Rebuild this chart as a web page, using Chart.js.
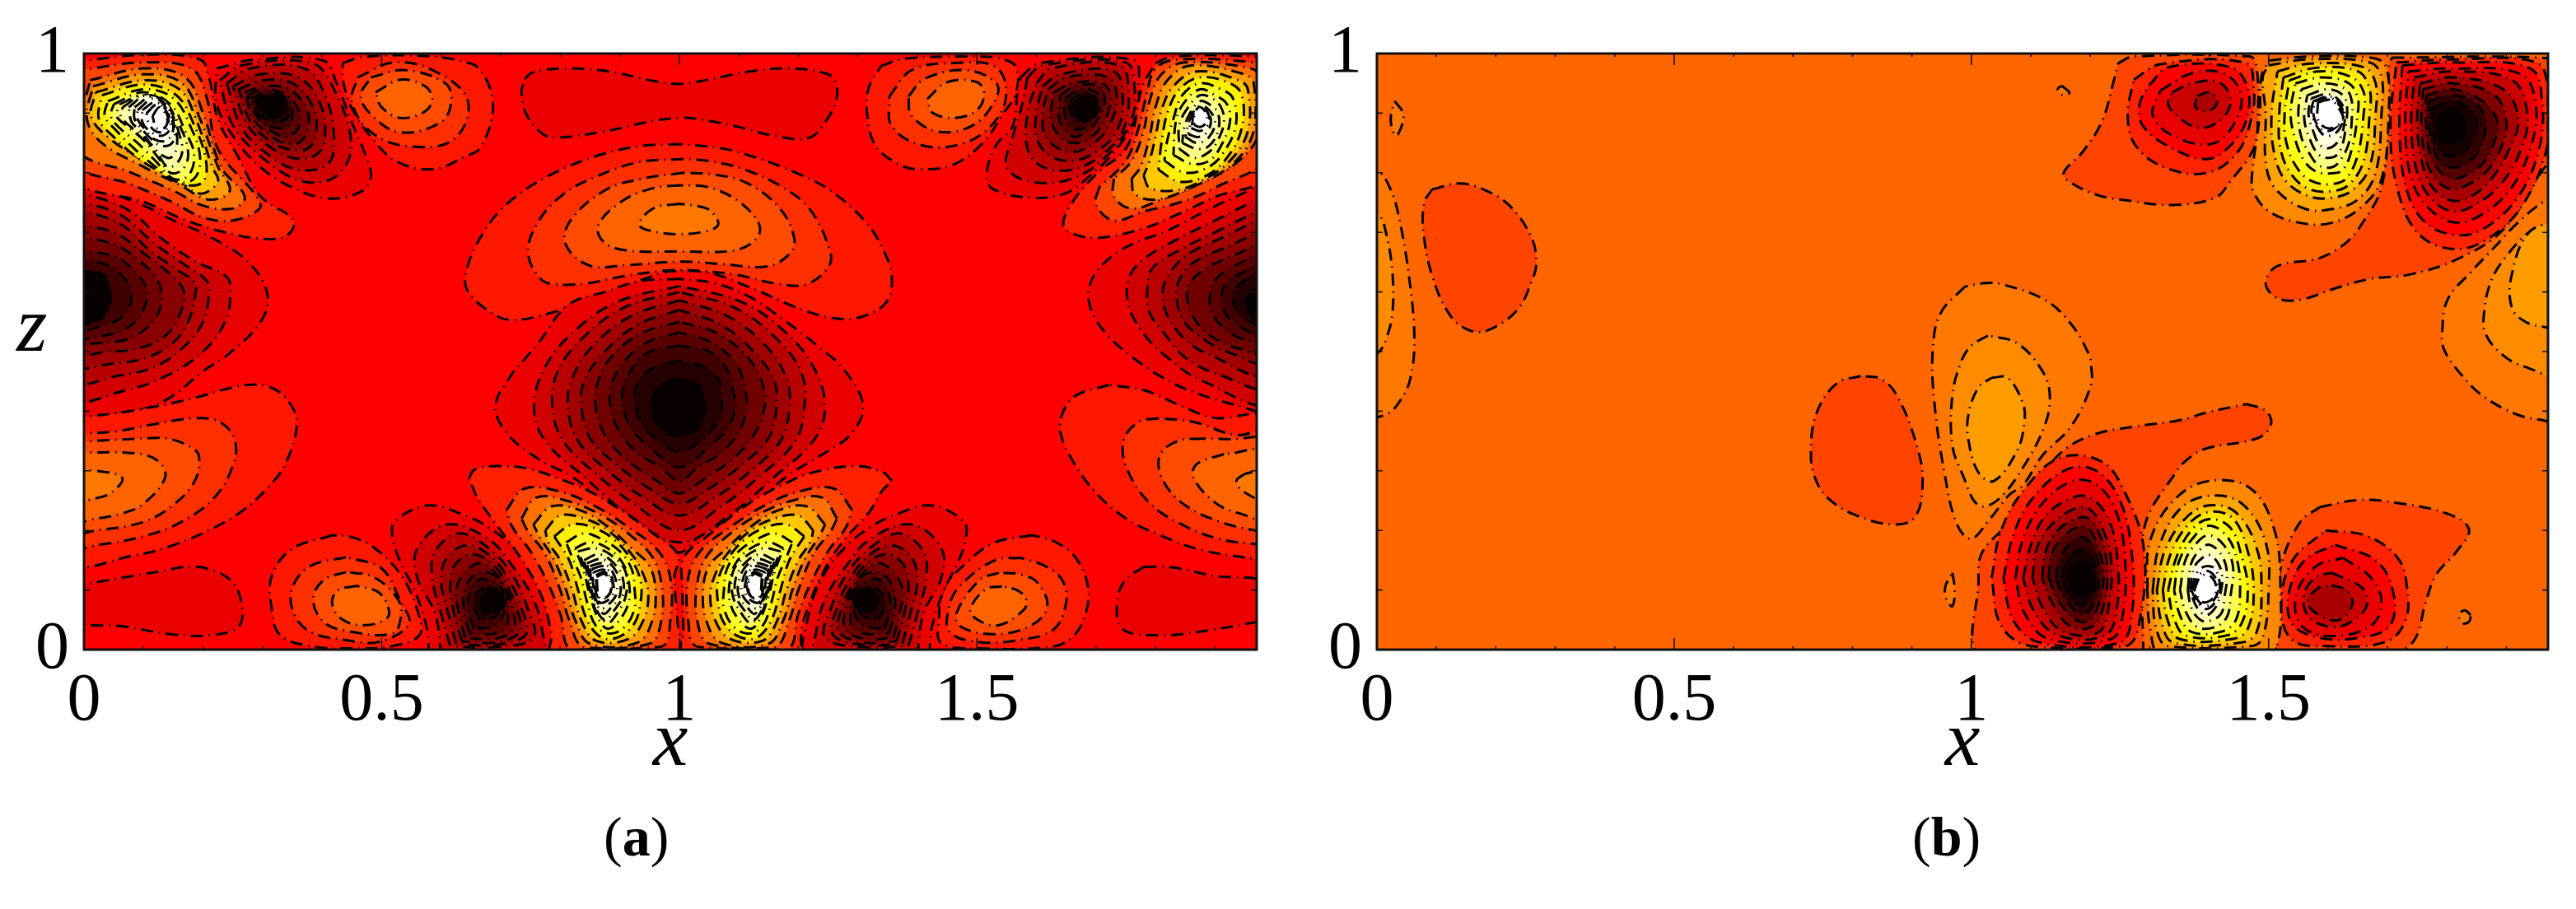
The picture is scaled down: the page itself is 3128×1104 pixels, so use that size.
<!DOCTYPE html>
<html><head><meta charset="utf-8">
<script src="https://cdn.jsdelivr.net/npm/chart.js@4/dist/chart.umd.min.js"></script>
<style>
html,body{margin:0;background:#fff;width:3128px;height:1104px;overflow:hidden}
canvas{position:absolute;top:0}
.t{position:absolute;font-family:"Liberation Serif",serif;color:#000;line-height:1;white-space:nowrap}
</style></head><body>
<canvas id="ca" width="1600" height="1104" style="left:0"></canvas>
<canvas id="cb" width="1528" height="1104" style="left:1600px"></canvas>
<div class="t" style="left:20px;top:346px;font-size:96px;font-style:italic">z</div>
<div class="t" style="left:733px;top:982px;font-size:68px">(<b>a</b>)</div>
<div class="t" style="left:2322px;top:982px;font-size:68px">(<b>b</b>)</div>
<script>
// categories / axis values
const xTickLabels=[0,0.5,1,1.5];
const zTickLabels=[0,1];
const xMinorTicks=[0.1,0.2,0.3,0.4,0.6,0.7,0.8,0.9,1.1,1.2,1.3,1.4,1.6,1.7,1.8,1.9];
const zMinorTicks=[0.1,0.2,0.3,0.4,0.5,0.6,0.7,0.8,0.9];
const xMax=1.97;
// contour band colours by level
const aLevelColours={"0":"#ff0000","1":"#ff1800","2":"#ff3000","3":"#ff4c00","4":"#ff6400","5":"#ff7800","-1":"#ea0000","-2":"#d00000","-3":"#b80000","-4":"#a00000","-5":"#880000","-6":"#700000","-7":"#580000","-8":"#400000","-9":"#240000","-10":"#080000"};
const aPeakColours={"1":"#ff2000","2":"#ff4400","3":"#ff7000","4":"#ff9c00","5":"#ffc800","6":"#fff000","7":"#ffff28","8":"#ffff58","9":"#ffff88","10":"#ffffa8","11":"#ffffc8","12":"#ffffe4","13":"#fffff0","14":"#ffffff","15":"#ffffff","16":"#ffffff"};
const bLevelColours={"0":"#ff6600","1":"#ff7800","2":"#ff8c00","3":"#ff9c00","-1":"#ff4400","-2":"#ff2200","-3":"#ff0000","-4":"#e80000","-5":"#c80000","-6":"#a80000","-7":"#800000","-8":"#540000","-9":"#300000","-10":"#180000","-11":"#060000"};
const bPeakColours={"1":"#ff8800","2":"#ffa400","3":"#ffc800","4":"#ffe800","5":"#ffff10","6":"#ffff50","7":"#ffff88","8":"#ffffb8","9":"#ffffe0","10":"#ffffff","11":"#ffffff","12":"#ffffff"};

// Panel (a): contour loops as [level,[x,z,x,z,...]]
const aLeftEdgeDark=[
[-1,[-.02,.79,.10,.745,.15,.72,.205,.696,.274,.652,.308,.597,.297,.55,.242,.495,.2,.467,.14,.42,.08,.40,-.02,.4]],
[-2,[-.02,.771,.07,.74,.13,.69,.186,.652,.24,.625,.246,.597,.237,.55,.2,.5,.14,.46,.07,.435,-.02,.426]],
[-3,[-.02,.755,.06,.73,.12,.68,.17,.645,.205,.62,.21,.597,.2,.55,.17,.51,.12,.475,.06,.46,-.02,.454]],
[-4,[-.02,.74,.06,.715,.11,.67,.16,.635,.186,.615,.186,.59,.175,.55,.15,.515,.105,.49,.05,.48,-.02,.481]],
[-5,[-.02,.714,.05,.7,.1,.665,.15,.625,.168,.6,.16,.56,.135,.525,.09,.505,.04,.5,-.02,.5]],
[-6,[-.02,.695,.05,.68,.09,.655,.12,.625,.13,.6,.125,.565,.1,.535,.07,.52,.03,.515,-.02,.518]],
[-7,[-.02,.67,.05,.66,.085,.635,.105,.605,.1,.57,.08,.545,.05,.53,-.02,.53]],
[-8,[-.02,.655,.04,.645,.07,.62,.08,.595,.07,.565,.045,.548,-.02,.54]],
[-10,[-.02,.638,.03,.63,.045,.6,.04,.57,.025,.553,-.02,.546]]];
const aLeftLobes=[
[1,[-.02,.388,.076,.40,.172,.419,.274,.444,.32,.437,.352,.403,.357,.37,.338,.311,.311,.274,.265,.232,.209,.20,.149,.175,.089,.159,-.02,.15]],
[2,[-.02,.362,.053,.366,.117,.378,.184,.388,.228,.382,.253,.352,.251,.311,.219,.255,.163,.214,.103,.191,.025,.176,-.02,.175]],
[3,[-.02,.348,.094,.354,.14,.354,.177,.341,.193,.325,.186,.283,.149,.242,.099,.214,.02,.2,-.02,.199]],
[4,[-.02,.33,.089,.329,.126,.315,.136,.288,.099,.244,.062,.228,.02,.22,-.02,.217]],
[5,[-.02,.30,.02,.3,.064,.288,.048,.265,.02,.254,-.02,.25]],
[-1,[-.02,.106,.126,.131,.19,.139,.246,.117,.265,.076,.26,.039,.219,.025,.154,.025,.066,.039,-.02,.05]]];
const aBottomLobeLeft=[
[1,[.417,.192,.348,.168,.315,.122,.315,.071,.329,.025,.38,.006,.449,.002,.518,.006,.564,.025,.56,.066,.532,.126,.486,.172,.449,.189]],
[2,[.44,.155,.38,.14,.35,.104,.352,.062,.38,.03,.44,.016,.495,.013,.546,.043,.532,.08,.5,.136]],
[3,[.44,.13,.403,.117,.385,.085,.403,.046,.449,.03,.518,.027,.532,.053,.527,.085,.486,.122]],
[4,[.458,.107,.426,.099,.417,.076,.435,.05,.472,.041,.509,.053,.511,.071,.495,.096]]];
const aBottomDarkLeft=[
[-1,[.58,-.01,.575,.04,.555,.10,.53,.15,.518,.19,.522,.215,.578,.242,.64,.225,.68,.205,.725,.168,.762,.117,.785,.048,.785,-.01]],
[-2,[.6,-.01,.59,.06,.56,.12,.56,.17,.61,.21,.68,.185,.72,.14,.755,.085,.77,.03,.77,-.01]],
[-3,[.615,.006,.6,.06,.585,.12,.59,.165,.63,.195,.68,.17,.72,.125,.745,.07,.755,.02,.69,.004]],
[-4,[.625,.01,.612,.06,.6,.115,.61,.155,.645,.175,.685,.155,.715,.115,.735,.07,.742,.025,.69,.008]],
[-5,[.635,.014,.622,.06,.615,.11,.625,.145,.655,.16,.69,.14,.712,.105,.727,.07,.732,.03,.69,.012]],
[-6,[.64,.02,.63,.06,.625,.1,.64,.13,.665,.145,.69,.13,.71,.1,.72,.07,.722,.035,.69,.018]],
[-7,[.648,.027,.638,.065,.64,.10,.655,.125,.675,.13,.695,.12,.71,.09,.712,.06,.71,.04,.69,.027]],
[-8,[.655,.035,.645,.07,.65,.1,.665,.118,.685,.115,.7,.105,.705,.085,.705,.06,.69,.04]],
[-9,[.665,.05,.655,.075,.66,.095,.675,.105,.69,.105,.7,.09,.7,.07,.69,.055]],
[-10,[.672,.06,.665,.08,.675,.1,.69,.1,.708,.085,.7,.067,.685,.062]]];
const aBottomDarkRight=[
[-1,[1.42,-.01,1.425,.04,1.445,.1,1.47,.15,1.482,.19,1.478,.215,1.422,.242,1.36,.225,1.32,.205,1.275,.168,1.238,.117,1.215,.048,1.215,-.01]],
[-2,[1.4,-.01,1.41,.06,1.44,.12,1.44,.17,1.39,.21,1.32,.185,1.28,.14,1.245,.085,1.23,.03,1.23,-.01]],
[-3,[1.385,.006,1.4,.06,1.415,.12,1.41,.165,1.37,.195,1.32,.17,1.28,.125,1.255,.07,1.245,.02,1.31,.004]],
[-4,[1.375,.01,1.388,.06,1.4,.115,1.39,.155,1.355,.175,1.315,.155,1.285,.115,1.265,.07,1.258,.025,1.31,.008]],
[-5,[1.365,.014,1.378,.06,1.385,.11,1.375,.145,1.345,.16,1.31,.14,1.288,.105,1.273,.07,1.268,.03,1.31,.012]],
[-6,[1.36,.02,1.37,.06,1.375,.1,1.36,.13,1.335,.145,1.31,.13,1.29,.1,1.28,.07,1.278,.035,1.31,.018]],
[-7,[1.352,.027,1.362,.065,1.36,.1,1.345,.125,1.325,.13,1.305,.12,1.29,.09,1.288,.06,1.29,.04,1.31,.027]],
[-8,[1.345,.035,1.355,.07,1.35,.1,1.335,.118,1.315,.115,1.3,.105,1.295,.085,1.295,.06,1.31,.04]],
[-9,[1.335,.05,1.345,.075,1.34,.095,1.325,.105,1.31,.105,1.3,.09,1.3,.07,1.31,.055]],
[-10,[1.335,.085,1.33,.07,1.315,.062,1.298,.07,1.29,.09,1.31,.1,1.325,.1]]];
const aBottomLobeRight=[
[1,[1.592,.192,1.528,.179,1.482,.145,1.445,.103,1.436,.048,1.44,.011,1.505,.002,1.62,.004,1.657,.018,1.68,.053,1.687,.103,1.666,.154,1.629,.182]],
[2,[1.574,.154,1.528,.149,1.468,.103,1.452,.066,1.454,.03,1.5,.013,1.569,.016,1.629,.034,1.65,.08,1.643,.117,1.615,.14]],
[3,[1.537,.129,1.505,.117,1.466,.062,1.472,.039,1.528,.026,1.588,.039,1.618,.071,1.602,.112,1.574,.126]],
[4,[1.542,.106,1.514,.101,1.489,.066,1.505,.048,1.537,.041,1.578,.066,1.583,.083,1.569,.099]]];
const aRightLobes=[
[1,[1.722,.444,1.666,.426,1.643,.394,1.641,.361,1.662,.315,1.698,.265,1.749,.221,1.805,.193,1.874,.168,1.968,.152,1.99,.15,1.99,.385,1.897,.389,1.841,.41,1.781,.435]],
[2,[1.805,.388,1.772,.382,1.747,.352,1.751,.306,1.79,.246,1.846,.209,1.906,.186,1.968,.177,1.99,.177,1.99,.362,1.934,.36,1.864,.382]],
[3,[1.878,.354,1.837,.35,1.807,.325,1.813,.283,1.85,.242,1.91,.214,1.968,.2,1.99,.2,1.99,.348,1.924,.353]],
[4,[1.915,.328,1.869,.311,1.864,.288,1.901,.246,1.943,.228,1.99,.22,1.99,.33]],
[5,[1.95,.295,1.936,.283,1.948,.265,1.99,.25,1.99,.3]],
[-1,[1.781,.139,1.749,.117,1.735,.076,1.745,.034,1.805,.024,1.874,.03,1.968,.046,1.99,.05,1.99,.11,1.897,.124,1.828,.138]]];
const aRightEdgeDark=[
[-1,[1.99,.79,1.96,.772,1.892,.74,1.818,.702,1.76,.68,1.712,.647,1.689,.61,1.691,.573,1.717,.53,1.762,.49,1.809,.458,1.869,.43,1.968,.4,1.99,.39]],
[-2,[1.99,.765,1.9,.72,1.83,.685,1.78,.655,1.756,.625,1.754,.58,1.78,.53,1.82,.49,1.88,.45,1.99,.42]],
[-3,[1.99,.745,1.91,.705,1.84,.67,1.795,.64,1.786,.6,1.79,.565,1.815,.53,1.85,.49,1.91,.46,1.99,.445]],
[-4,[1.99,.73,1.92,.695,1.85,.66,1.82,.625,1.812,.6,1.82,.56,1.85,.52,1.89,.495,1.99,.465]],
[-5,[1.99,.71,1.93,.68,1.865,.65,1.84,.62,1.835,.595,1.845,.555,1.875,.525,1.92,.5,1.99,.485]],
[-6,[1.99,.69,1.94,.665,1.885,.64,1.858,.615,1.853,.59,1.865,.555,1.895,.525,1.94,.505,1.99,.5]],
[-7,[1.99,.67,1.945,.65,1.905,.625,1.892,.6,1.895,.565,1.92,.535,1.95,.52,1.99,.515]],
[-8,[1.99,.655,1.95,.635,1.92,.615,1.911,.59,1.92,.56,1.945,.54,1.99,.525]],
[-9,[1.99,.64,1.95,.62,1.93,.595,1.94,.565,1.96,.55,1.99,.535]],
[-10,[1.99,.62,1.965,.605,1.952,.585,1.96,.56,1.99,.55]]];
const aTopDarkLeft=[
[-1,[.223,.975,.288,.99,.403,.988,.424,.951,.449,.887,.472,.832,.482,.792,.463,.767,.408,.757,.348,.776,.297,.809,.255,.855,.223,.915]],
[-2,[.228,.955,.265,.98,.38,.985,.415,.95,.449,.85,.425,.795,.37,.785,.306,.82,.25,.88]],
[-3,[.24,.95,.28,.975,.37,.975,.405,.93,.42,.86,.41,.815,.36,.805,.31,.83,.265,.875]],
[-4,[.25,.945,.295,.965,.36,.96,.395,.92,.405,.86,.39,.83,.35,.825,.31,.845,.275,.88]],
[-5,[.26,.94,.3,.955,.35,.95,.385,.91,.39,.865,.375,.84,.34,.84,.31,.855,.28,.885]],
[-6,[.27,.935,.305,.945,.345,.94,.375,.905,.375,.87,.36,.85,.335,.85,.31,.865,.285,.89]],
[-7,[.275,.93,.305,.94,.34,.93,.36,.905,.36,.875,.34,.86,.315,.87,.29,.895]],
[-8,[.28,.925,.31,.935,.34,.925,.35,.905,.345,.88,.325,.875,.3,.885]],
[-9,[.285,.92,.31,.932,.335,.925,.345,.9,.33,.885,.31,.888,.292,.9]],
[-10,[.29,.92,.31,.93,.335,.925,.34,.905,.32,.892,.3,.9]]];
const aTopDarkRight=[
[-1,[1.574,.961,1.606,.984,1.763,.989,1.772,.942,1.768,.897,1.735,.84,1.69,.795,1.648,.765,1.592,.758,1.528,.772,1.516,.795,1.532,.846,1.56,.878,1.569,.945]],
[-2,[1.585,.96,1.61,.98,1.75,.985,1.765,.94,1.76,.89,1.72,.83,1.66,.79,1.59,.785,1.55,.81,1.56,.86,1.575,.91]],
[-3,[1.6,.95,1.625,.975,1.74,.98,1.755,.93,1.745,.87,1.71,.83,1.66,.805,1.61,.81,1.585,.84,1.585,.9]],
[-4,[1.61,.945,1.64,.965,1.73,.97,1.745,.925,1.735,.87,1.7,.835,1.66,.82,1.62,.83,1.6,.86,1.6,.9]],
[-5,[1.62,.94,1.65,.96,1.72,.96,1.735,.925,1.72,.875,1.69,.845,1.66,.835,1.63,.845,1.612,.87,1.612,.91]],
[-6,[1.63,.935,1.66,.95,1.71,.95,1.725,.925,1.71,.88,1.685,.855,1.66,.85,1.64,.86,1.625,.885,1.625,.91]],
[-7,[1.64,.93,1.665,.945,1.705,.945,1.715,.92,1.7,.885,1.685,.87,1.665,.86,1.65,.87,1.638,.89]],
[-8,[1.648,.925,1.675,.94,1.7,.935,1.708,.915,1.695,.89,1.68,.875,1.66,.875,1.648,.895]],
[-9,[1.655,.92,1.68,.935,1.7,.925,1.7,.905,1.69,.89,1.67,.885,1.658,.9]],
[-10,[1.66,.915,1.685,.93,1.7,.92,1.7,.9,1.685,.89,1.665,.895]]];
const aTopLobeLeft=[
[1,[.435,.984,.472,.995,.587,.995,.647,.984,.661,.977,.682,.942,.686,.896,.665,.841,.642,.828,.587,.806,.527,.818,.486,.855,.449,.91,.435,.956]],
[2,[.46,.96,.52,.985,.59,.97,.645,.92,.62,.855,.54,.845,.48,.87,.45,.92]],
[3,[.482,.96,.54,.972,.607,.95,.617,.92,.6,.885,.53,.868,.48,.9,.465,.93]],
[4,[.49,.935,.532,.956,.573,.945,.585,.924,.573,.903,.532,.892,.5,.91]]];
const aTopLobeRight=[
[1,[1.339,.979,1.376,.991,1.5,.995,1.546,.99,1.567,.975,1.565,.933,1.542,.896,1.51,.85,1.459,.813,1.403,.806,1.371,.813,1.33,.845,1.316,.896,1.318,.942]],
[2,[1.353,.928,1.39,.972,1.463,.984,1.532,.977,1.549,.928,1.523,.878,1.473,.848,1.408,.846,1.357,.878]],
[3,[1.385,.928,1.413,.958,1.482,.972,1.532,.951,1.532,.924,1.494,.88,1.435,.869,1.39,.896]],
[4,[1.417,.924,1.45,.952,1.5,.952,1.512,.933,1.5,.905,1.463,.892,1.425,.901]]];
const aTopBar=[
[-1,[.74,.957,.753,.968,.808,.975,.882,.97,.947,.956,1,.949,1.048,.956,1.118,.97,1.187,.975,1.242,.968,1.26,.957,1.265,.928,1.25,.892,1.219,.859,1.164,.861,1.094,.878,1.025,.891,1.002,.892,.956,.887,.873,.869,.795,.859,.772,.864,.744,.896,.735,.935]]];
const aCentreUpperLobe=[
[1,[1.002,.848,.938,.845,.864,.829,.781,.795,.712,.749,.67,.698,.643,.638,.645,.601,.693,.56,.725,.553,.781,.564,.841,.585,.91,.61,.975,.633,1.002,.635,1.048,.633,1.118,.608,1.21,.569,1.27,.555,1.311,.56,1.348,.583,1.357,.624,1.343,.67,1.311,.72,1.251,.772,1.196,.8,1.136,.823,1.071,.841]],
[2,[1.007,.823,.933,.818,.864,.795,.804,.763,.762,.716,.746,.666,.767,.622,.79,.613,.841,.614,.91,.627,.979,.636,1.025,.636,1.094,.629,1.164,.614,1.214,.613,1.251,.643,1.253,.67,1.219,.739,1.173,.776,1.108,.806,1.048,.82]],
[3,[1.007,.8,.938,.79,.878,.772,.818,.721,.809,.68,.85,.644,.91,.645,1.002,.651,1.071,.647,1.149,.643,1.187,.666,1.193,.691,1.169,.74,1.113,.783,1.057,.797]],
[4,[1,.779,.956,.774,.905,.753,.864,.712,.873,.684,.91,.67,1.002,.668,1.094,.67,1.131,.691,1.133,.716,1.098,.753,1.048,.776]],
[5,[1,.748,.956,.74,.933,.712,.965,.7,1.002,.697,1.04,.701,1.065,.712,1.056,.733,1.04,.742]]];
const aCentreDark=[
[-1,[1,.622,.933,.618,.875,.6,.813,.578,.763,.514,.74,.487,.716,.458,.691,.408,.712,.361,.763,.32,.823,.288,.892,.232,.956,.195,1,.163,1.039,.195,1.113,.232,1.177,.288,1.251,.334,1.288,.361,1.309,.408,1.279,.467,1.233,.509,1.173,.555,1.118,.592,1.058,.615]],
[-2,[1,.61,.9,.585,.83,.54,.775,.475,.756,.405,.775,.35,.84,.29,.91,.23,1,.18,1.09,.23,1.16,.29,1.225,.35,1.245,.405,1.225,.475,1.17,.54,1.1,.585]],
[-3,[1,.6,.91,.575,.84,.525,.795,.465,.787,.405,.805,.35,.86,.295,.93,.24,1,.2,1.07,.24,1.14,.295,1.195,.35,1.21,.405,1.205,.465,1.16,.525,1.09,.575]],
[-4,[1,.586,.92,.56,.855,.51,.82,.455,.813,.405,.83,.35,.88,.3,.94,.255,1,.225,1.06,.255,1.12,.3,1.17,.35,1.185,.405,1.18,.455,1.145,.51,1.08,.56]],
[-5,[1,.57,.93,.545,.875,.5,.84,.45,.836,.405,.85,.355,.895,.31,.95,.27,1,.245,1.05,.27,1.105,.31,1.15,.355,1.163,.405,1.16,.45,1.125,.5,1.07,.545]],
[-6,[1,.55,.935,.53,.885,.49,.862,.445,.86,.405,.875,.36,.91,.32,.96,.285,1,.262,1.04,.285,1.09,.32,1.125,.36,1.143,.405,1.14,.445,1.115,.49,1.065,.53]],
[-7,[1,.532,.945,.515,.905,.48,.885,.44,.885,.405,.9,.365,.93,.33,.97,.305,1,.283,1.03,.305,1.07,.33,1.1,.365,1.113,.405,1.11,.44,1.095,.48,1.055,.515]],
[-8,[1,.51,.95,.5,.92,.47,.905,.435,.906,.405,.92,.37,.95,.34,1,.306,1.05,.34,1.08,.37,1.094,.405,1.09,.435,1.08,.47,1.05,.5]],
[-9,[1,.485,.96,.475,.935,.455,.925,.43,.928,.4,.94,.375,.965,.35,1,.331,1.035,.35,1.06,.375,1.071,.4,1.07,.43,1.065,.455,1.04,.475]],
[-10,[1,.455,.97,.445,.955,.42,.955,.395,.97,.37,1,.358,1.03,.37,1.043,.395,1.043,.42,1.03,.445]]];
const aTopWhiteLeft=[
[1,[-.02,.985,.1,.998,.195,.99,.21,.96,.225,.89,.257,.83,.297,.76,.352,.72,.338,.693,.292,.69,.237,.70,.172,.72,.103,.75,-.02,.795]],
[2,[-.02,.97,.1,.985,.18,.975,.205,.93,.225,.84,.29,.76,.295,.74,.25,.72,.2,.725,.15,.75,.08,.78,-.02,.82]],
[3,[.01,.955,.1,.975,.17,.96,.2,.9,.23,.81,.27,.76,.25,.74,.2,.745,.15,.77,.08,.80,-.01,.84]],
[4,[.015,.945,.1,.965,.165,.95,.195,.89,.225,.81,.245,.77,.21,.755,.16,.78,.1,.81,.03,.85,.005,.89]],
[5,[.02,.935,.1,.955,.16,.94,.19,.885,.215,.81,.225,.785,.195,.765,.155,.79,.1,.82,.04,.86,.012,.895]],
[6,[.03,.93,.1,.948,.155,.93,.185,.88,.205,.82,.2,.785,.17,.78,.13,.8,.09,.825,.05,.86,.025,.89]],
[7,[.04,.92,.1,.94,.15,.925,.18,.875,.195,.825,.185,.79,.155,.785,.12,.81,.085,.84,.055,.87,.035,.895]],
[8,[.05,.915,.1,.935,.145,.915,.17,.87,.185,.83,.175,.795,.15,.79,.12,.82,.09,.85,.06,.875,.045,.895]],
[9,[.06,.915,.1,.93,.14,.91,.165,.87,.175,.83,.165,.805,.145,.8,.125,.825,.1,.855,.07,.88,.055,.895]],
[10,[.065,.91,.1,.93,.14,.915,.16,.865,.165,.835,.155,.815,.14,.81,.125,.83,.1,.86,.075,.88,.062,.895]],
[11,[.075,.91,.105,.93,.14,.915,.155,.87,.155,.84,.145,.825,.13,.83,.115,.845,.095,.87,.08,.885]],
[12,[.085,.91,.115,.928,.14,.91,.152,.875,.148,.85,.13,.845,.115,.855,.1,.87,.085,.89]],
[13,[.09,.905,.118,.925,.14,.905,.15,.875,.14,.855,.12,.855,.105,.87,.09,.89]],
[14,[.098,.905,.12,.918,.14,.9,.145,.875,.13,.862,.11,.87,.098,.885]],
[15,[.105,.9,.124,.915,.14,.895,.14,.875,.125,.868,.11,.88]],
[16,[.115,.895,.127,.91,.14,.89,.135,.875,.122,.875]]];
const aTopWhiteRight=[
[1,[1.8,.984,1.83,.995,1.961,.995,1.99,.985,1.99,.8,1.897,.758,1.837,.73,1.781,.707,1.708,.691,1.666,.696,1.645,.712,1.662,.753,1.703,.8,1.747,.836,1.763,.873,1.777,.942]],
[2,[1.705,.775,1.7,.747,1.73,.72,1.78,.735,1.84,.75,1.9,.775,1.99,.83,1.99,.975,1.965,.985,1.84,.99,1.8,.975,1.785,.93,1.77,.87,1.75,.82]],
[3,[1.73,.79,1.73,.76,1.76,.74,1.81,.755,1.87,.78,1.94,.82,1.975,.87,1.975,.96,1.96,.975,1.85,.985,1.81,.965,1.79,.92,1.78,.87,1.76,.82]],
[4,[1.76,.79,1.765,.765,1.8,.755,1.86,.775,1.93,.815,1.965,.87,1.965,.95,1.95,.965,1.86,.98,1.82,.955,1.8,.91,1.79,.86,1.775,.81]],
[5,[1.78,.795,1.79,.775,1.83,.77,1.875,.785,1.925,.82,1.955,.87,1.955,.94,1.94,.955,1.87,.97,1.83,.945,1.81,.905,1.8,.86,1.79,.82]],
[6,[1.805,.805,1.84,.785,1.885,.795,1.92,.825,1.945,.875,1.945,.93,1.925,.95,1.875,.96,1.84,.94,1.82,.9,1.81,.85]],
[7,[1.815,.82,1.85,.8,1.89,.81,1.915,.835,1.935,.88,1.93,.925,1.91,.94,1.875,.95,1.845,.93,1.83,.89,1.82,.855]],
[8,[1.83,.83,1.86,.815,1.89,.82,1.91,.845,1.925,.885,1.92,.915,1.9,.93,1.875,.94,1.85,.92,1.835,.89]],
[9,[1.84,.84,1.865,.825,1.89,.835,1.905,.855,1.915,.885,1.91,.91,1.895,.925,1.875,.93,1.855,.91,1.84,.88]],
[10,[1.845,.85,1.87,.84,1.89,.845,1.905,.87,1.905,.9,1.89,.915,1.875,.92,1.858,.9,1.848,.875]],
[11,[1.85,.86,1.87,.85,1.89,.86,1.9,.885,1.89,.905,1.875,.912,1.86,.895]],
[12,[1.855,.865,1.872,.86,1.888,.87,1.893,.89,1.885,.9,1.875,.905,1.862,.89]],
[14,[1.86,.875,1.875,.87,1.888,.88,1.89,.895,1.88,.908,1.868,.905]],
[16,[1.865,.88,1.876,.877,1.885,.885,1.885,.9,1.873,.91,1.865,.895]]];
const aBottomWhiteLeft=[
[1,[.647,.288,.656,.302,.693,.308,.744,.304,.795,.288,.85,.265,.905,.232,.956,.195,.998,.159,.992,.122,.997,.048,.997,-.01,.785,-.01,.785,.025,.767,.094,.73,.159,.693,.209,.661,.255]],
[2,[.71,.235,.74,.27,.8,.265,.86,.24,.915,.205,.965,.165,.985,.12,.985,.05,.97,.005,.82,.0,.8,.06,.78,.11,.75,.165,.72,.205]],
[3,[.735,.22,.76,.255,.81,.25,.87,.225,.92,.19,.955,.155,.97,.11,.97,.05,.95,.01,.84,.004,.815,.05,.8,.1,.775,.16,.745,.2]],
[4,[.755,.21,.785,.24,.83,.235,.875,.21,.92,.17,.95,.14,.96,.1,.955,.05,.93,.012,.85,.01,.825,.05,.81,.1,.79,.15,.765,.19]],
[5,[.775,.2,.8,.225,.84,.22,.88,.2,.92,.16,.94,.125,.948,.09,.94,.05,.915,.018,.86,.015,.835,.05,.82,.1,.8,.15,.78,.18]],
[6,[.79,.19,.82,.21,.855,.205,.89,.185,.92,.15,.935,.115,.935,.08,.925,.045,.9,.022,.87,.02,.845,.05,.83,.1,.815,.15]],
[7,[.81,.18,.84,.195,.87,.185,.9,.165,.92,.135,.925,.1,.925,.07,.91,.04,.885,.027,.86,.04,.845,.08,.835,.12,.82,.155]],
[8,[.825,.17,.85,.18,.88,.17,.905,.145,.915,.115,.915,.08,.9,.05,.88,.035,.865,.05,.85,.09,.84,.13]],
[9,[.83,.165,.86,.17,.89,.155,.91,.13,.91,.09,.895,.06,.88,.045,.865,.06,.85,.1,.84,.14]],
[10,[.84,.15,.865,.16,.89,.145,.905,.12,.905,.09,.89,.065,.875,.05,.86,.07,.85,.11]],
[11,[.845,.145,.868,.152,.888,.14,.9,.115,.9,.09,.885,.07,.873,.06,.86,.08,.85,.115]],
[12,[.85,.14,.87,.145,.885,.135,.895,.11,.893,.09,.88,.075,.87,.07,.858,.09,.852,.115]],
[13,[.853,.135,.872,.14,.883,.13,.89,.105,.887,.09,.875,.08,.865,.08,.857,.1]],
[14,[.856,.13,.873,.134,.882,.122,.885,.102,.88,.09,.87,.085,.862,.09,.858,.108]],
[15,[.86,.125,.875,.13,.884,.115,.884,.095,.87,.087,.862,.1]],
[16,[.861,.122,.875,.127,.886,.11,.88,.09,.866,.087]]];
const aBottomWhiteRight=[
[1,[1.357,.283,1.343,.297,1.297,.308,1.223,.297,1.187,.283,1.118,.246,1.048,.191,1.007,.154,1.005,.108,1.007,.03,1.007,-.01,1.215,-.01,1.205,.007,1.21,.053,1.247,.14,1.279,.186,1.32,.232,1.339,.264]],
[2,[1.29,.235,1.26,.27,1.2,.265,1.14,.24,1.085,.205,1.035,.165,1.015,.12,1.015,.05,1.03,.005,1.18,.0,1.2,.06,1.22,.11,1.25,.165,1.28,.205]],
[3,[1.265,.22,1.24,.255,1.19,.25,1.13,.225,1.08,.19,1.045,.155,1.03,.11,1.03,.05,1.05,.01,1.16,.004,1.185,.05,1.2,.1,1.225,.16,1.255,.2]],
[4,[1.245,.21,1.215,.24,1.17,.235,1.125,.21,1.08,.17,1.05,.14,1.04,.1,1.045,.05,1.07,.012,1.15,.01,1.175,.05,1.19,.1,1.21,.15,1.235,.19]],
[5,[1.225,.2,1.2,.225,1.16,.22,1.12,.2,1.08,.16,1.06,.125,1.052,.09,1.06,.05,1.085,.018,1.14,.015,1.165,.05,1.18,.1,1.2,.15,1.22,.18]],
[6,[1.21,.19,1.18,.21,1.145,.205,1.11,.185,1.08,.15,1.065,.115,1.065,.08,1.075,.045,1.1,.022,1.13,.02,1.155,.05,1.17,.1,1.185,.15]],
[7,[1.19,.18,1.16,.195,1.13,.185,1.1,.165,1.08,.135,1.075,.1,1.075,.07,1.09,.04,1.115,.027,1.14,.04,1.155,.08,1.165,.12,1.18,.155]],
[8,[1.175,.17,1.15,.18,1.12,.17,1.095,.145,1.085,.115,1.085,.08,1.1,.05,1.12,.035,1.135,.05,1.15,.09,1.16,.13]],
[9,[1.17,.165,1.14,.17,1.11,.155,1.09,.13,1.09,.09,1.105,.06,1.12,.045,1.135,.06,1.15,.1,1.16,.14]],
[10,[1.16,.15,1.135,.16,1.11,.145,1.095,.12,1.095,.09,1.11,.065,1.125,.05,1.14,.07,1.15,.11]],
[11,[1.155,.145,1.132,.152,1.112,.14,1.1,.115,1.1,.09,1.115,.07,1.127,.06,1.14,.08,1.15,.115]],
[12,[1.15,.14,1.13,.145,1.115,.135,1.105,.11,1.107,.09,1.12,.075,1.13,.07,1.142,.09,1.148,.115]],
[13,[1.147,.135,1.128,.14,1.117,.13,1.11,.105,1.113,.09,1.125,.08,1.135,.08,1.143,.1]],
[14,[1.144,.13,1.127,.134,1.118,.122,1.115,.102,1.12,.09,1.13,.085,1.138,.09,1.142,.108]],
[15,[1.14,.125,1.125,.13,1.116,.115,1.116,.095,1.13,.087,1.138,.1]],
[16,[1.139,.122,1.125,.127,1.116,.11,1.12,.09,1.134,.087]]];

// Panel (b): contour loops
const bSmallLobes=[
[-1,[.093,.772,.137,.782,.177,.773,.224,.744,.261,.689,.268,.647,.261,.62,.237,.571,.19,.537,.157,.535,.123,.561,.093,.627,.078,.703,.08,.751]],
[-1,[.814,.459,.774,.447,.74,.398,.73,.336,.737,.288,.76,.253,.807,.225,.868,.21,.905,.222,.918,.281,.908,.343,.875,.426,.848,.454]],
[1,[-.02,.81,.003,.803,.023,.772,.036,.73,.053,.633,.063,.523,.056,.454,.04,.419,.016,.395,-.02,.395]],
[2,[-.02,.735,.003,.73,.016,.696,.026,.633,.026,.564,.016,.523,.003,.499,-.02,.49]],
[1,[.03,.92,.044,.9,.042,.88,.032,.862,.024,.88,.024,.9]],
[1,[.968,.129,.972,.1,.968,.073,.958,.085,.956,.105]],
[1,[1.152,.946,1.165,.934,1.152,.931,1.145,.94]],
[1,[1.84,.058,1.83,.066,1.82,.058,1.828,.044,1.838,.048]]];
const bCentreLobe=[
[1,[.989,.609,.948,.564,.935,.502,.938,.412,.955,.295,.975,.212,.999,.186,1.031,.219,1.064,.26,1.087,.276,1.119,.325,1.168,.375,1.201,.444,1.201,.481,1.198,.495,1.168,.546,1.123,.587,1.051,.613,1.025,.615]],
[2,[1.028,.527,.999,.509,.982,.481,.968,.426,.968,.343,.986,.292,1.012,.242,1.044,.251,1.087,.306,1.123,.375,1.132,.426,1.119,.468,1.077,.514]],
[3,[1.034,.456,1.061,.456,1.087,.412,1.089,.38,1.077,.334,1.038,.283,1.012,.297,.995,.352,.995,.394,1.012,.44]]];
const bRightLobe=[
[1,[1.99,.76,1.965,.753,1.919,.716,1.88,.675,1.84,.633,1.801,.587,1.792,.532,1.795,.504,1.821,.465,1.86,.426,1.919,.394,1.965,.384,1.99,.38]],
[2,[1.99,.72,1.942,.703,1.9,.66,1.875,.62,1.863,.57,1.865,.53,1.893,.495,1.93,.475,1.99,.465]],
[3,[1.99,.72,1.938,.7,1.909,.629,1.909,.574,1.932,.55,1.965,.541,1.99,.535]]];
const bLowerDarkOuter=[
[-1,[1.462,.412,1.495,.401,1.504,.378,1.482,.355,1.397,.338,1.371,.325,1.345,.299,1.29,.2,1.289,.002,1.289,-.01,1.018,-.01,1.012,.117,1.018,.163,1.064,.214,1.116,.288,1.155,.334,1.207,.361,1.266,.373,1.351,.385,1.397,.398]]];
const bLowerBlack=[
[-2,[1.034,.12,1.05,.2,1.09,.27,1.15,.322,1.22,.315,1.26,.26,1.29,.17,1.285,.06,1.26,.006,1.1,.006,1.05,.04]],
[-3,[1.054,.12,1.07,.19,1.10,.25,1.16,.302,1.21,.3,1.25,.25,1.27,.16,1.27,.06,1.25,.012,1.115,.012,1.07,.05]],
[-4,[1.074,.12,1.085,.18,1.115,.24,1.165,.281,1.205,.28,1.24,.24,1.258,.16,1.255,.06,1.235,.018,1.13,.018,1.09,.06]],
[-5,[1.087,.12,1.1,.175,1.125,.225,1.17,.255,1.2,.255,1.23,.22,1.245,.16,1.245,.07,1.225,.024,1.145,.024,1.105,.065]],
[-6,[1.103,.12,1.11,.17,1.135,.21,1.175,.237,1.2,.235,1.222,.2,1.235,.15,1.232,.08,1.215,.03,1.155,.03,1.12,.07]],
[-7,[1.119,.12,1.125,.165,1.145,.2,1.18,.221,1.2,.218,1.217,.19,1.228,.145,1.225,.085,1.205,.04,1.165,.04,1.135,.08]],
[-8,[1.13,.12,1.135,.16,1.155,.19,1.183,.207,1.2,.2,1.212,.175,1.222,.135,1.218,.09,1.2,.05,1.175,.05,1.145,.085]],
[-9,[1.142,.12,1.15,.155,1.165,.178,1.185,.189,1.2,.18,1.21,.16,1.215,.125,1.21,.09,1.195,.062,1.178,.062,1.155,.09]],
[-10,[1.152,.12,1.16,.15,1.175,.163,1.188,.168,1.2,.16,1.208,.14,1.21,.12,1.205,.095,1.19,.075,1.172,.08,1.16,.1]],
[-11,[1.162,.12,1.172,.14,1.185,.149,1.198,.14,1.208,.12,1.2,.1,1.185,.089,1.17,.1]]];
const bLowerWhite=[
[1,[1.296,.1,1.3,.18,1.34,.25,1.4,.283,1.47,.27,1.51,.2,1.52,.1,1.515,.01,1.49,-.01,1.32,-.01,1.3,.04]],
[2,[1.305,.1,1.315,.17,1.35,.235,1.4,.258,1.455,.245,1.495,.18,1.5,.1,1.49,.02,1.47,.006,1.33,.006,1.31,.04]],
[3,[1.312,.1,1.325,.165,1.36,.22,1.4,.242,1.445,.23,1.48,.17,1.488,.1,1.48,.03,1.455,.012,1.34,.012,1.32,.045]],
[4,[1.322,.1,1.335,.16,1.365,.21,1.4,.231,1.44,.22,1.465,.165,1.475,.1,1.465,.035,1.44,.018,1.35,.018,1.33,.05]],
[5,[1.331,.1,1.345,.155,1.37,.2,1.4,.219,1.435,.205,1.455,.155,1.465,.1,1.455,.045,1.43,.024,1.36,.024,1.34,.055]],
[6,[1.341,.1,1.35,.15,1.375,.19,1.4,.208,1.43,.19,1.447,.15,1.452,.1,1.445,.05,1.42,.03,1.37,.03,1.35,.06]],
[7,[1.351,.1,1.36,.15,1.38,.18,1.4,.192,1.425,.175,1.44,.14,1.436,.09,1.43,.055,1.41,.038,1.38,.038,1.36,.065]],
[8,[1.364,.1,1.37,.145,1.385,.168,1.4,.176,1.42,.16,1.43,.13,1.426,.09,1.42,.06,1.4,.048,1.385,.05,1.37,.07]],
[9,[1.367,.1,1.376,.14,1.39,.155,1.4,.159,1.415,.145,1.422,.12,1.418,.09,1.41,.07,1.395,.058,1.38,.07]],
[10,[1.37,.1,1.38,.13,1.395,.14,1.41,.135,1.418,.105,1.41,.08,1.395,.068,1.38,.08]],
[11,[1.372,.1,1.383,.125,1.398,.132,1.412,.118,1.415,.098,1.4,.075,1.385,.078]],
[12,[1.375,.1,1.385,.122,1.4,.125,1.412,.105,1.405,.085,1.388,.08]]];
const bLowerSmallDark=[
[-1,[1.586,.239,1.651,.251,1.717,.246,1.801,.228,1.837,.202,1.815,.163,1.782,.126,1.762,.071,1.752,.03,1.736,.006,1.7,-.01,1.521,-.01,1.514,.048,1.521,.14,1.553,.214]],
[-2,[1.596,.2,1.664,.191,1.717,.154,1.733,.103,1.73,.048,1.697,.013,1.599,.006,1.54,.016,1.521,.071,1.54,.149]],
[-3,[1.612,.176,1.681,.149,1.71,.094,1.703,.039,1.651,.02,1.586,.02,1.54,.043,1.534,.094,1.56,.149]],
[-4,[1.625,.154,1.671,.122,1.69,.08,1.671,.039,1.599,.023,1.553,.043,1.547,.094,1.58,.14]],
[-5,[1.606,.129,1.658,.103,1.664,.071,1.632,.043,1.599,.039,1.566,.057,1.56,.094,1.58,.122]],
[-6,[1.606,.108,1.632,.099,1.641,.076,1.619,.05,1.586,.057,1.566,.08,1.583,.103]]];
const bUpperSmallDark=[
[-1,[1.247,.984,1.273,.995,1.469,.995,1.48,.975,1.482,.896,1.475,.841,1.436,.786,1.41,.758,1.338,.746,1.266,.753,1.214,.762,1.168,.783,1.155,.799,1.188,.836,1.22,.887,1.24,.956]],
[-2,[1.273,.956,1.318,.982,1.462,.984,1.475,.942,1.472,.896,1.449,.836,1.397,.8,1.325,.809,1.276,.846,1.263,.896]],
[-3,[1.299,.947,1.332,.977,1.436,.977,1.465,.942,1.462,.887,1.436,.846,1.397,.823,1.338,.841,1.289,.878,1.283,.915]],
[-4,[1.318,.938,1.371,.967,1.423,.967,1.452,.938,1.449,.896,1.41,.85,1.345,.859,1.305,.896]],
[-5,[1.338,.935,1.371,.95,1.416,.952,1.436,.924,1.423,.892,1.384,.875,1.345,.896,1.331,.915]],
[-6,[1.38,.929,1.403,.935,1.413,.917,1.397,.903,1.377,.91]]];
const bUpperWhite=[
[1,[1.501,.988,1.566,.995,1.671,.993,1.697,.979,1.702,.9,1.69,.79,1.658,.744,1.606,.716,1.553,.716,1.501,.735,1.475,.767,1.472,.795,1.485,.896,1.488,.961]],
[2,[1.5,.98,1.565,.99,1.67,.985,1.69,.96,1.69,.9,1.68,.8,1.65,.755,1.606,.739,1.56,.74,1.51,.775,1.495,.82,1.495,.9,1.49,.96]],
[3,[1.515,.97,1.57,.983,1.66,.977,1.68,.95,1.68,.9,1.67,.81,1.64,.77,1.606,.758,1.57,.76,1.53,.785,1.51,.83,1.505,.9]],
[4,[1.525,.96,1.58,.976,1.65,.97,1.67,.94,1.67,.9,1.66,.82,1.635,.78,1.606,.769,1.57,.772,1.54,.795,1.52,.84,1.518,.9]],
[5,[1.535,.955,1.585,.97,1.64,.96,1.66,.935,1.66,.9,1.65,.83,1.63,.79,1.606,.781,1.575,.785,1.55,.805,1.53,.85,1.527,.9]],
[6,[1.545,.95,1.59,.96,1.635,.95,1.65,.925,1.65,.9,1.64,.84,1.625,.805,1.606,.799,1.58,.802,1.56,.82,1.545,.855,1.537,.9]],
[7,[1.555,.94,1.595,.95,1.63,.94,1.64,.92,1.64,.89,1.635,.85,1.62,.82,1.606,.809,1.585,.812,1.57,.83,1.555,.86,1.55,.9]],
[8,[1.565,.93,1.6,.94,1.625,.93,1.632,.91,1.63,.88,1.625,.85,1.615,.83,1.6,.825,1.585,.83,1.572,.85,1.56,.89]],
[9,[1.572,.925,1.6,.932,1.62,.92,1.628,.9,1.625,.87,1.615,.85,1.6,.841,1.585,.848,1.575,.87,1.567,.9]],
[10,[1.575,.92,1.603,.928,1.62,.915,1.626,.895,1.62,.875,1.61,.865,1.595,.862,1.583,.875,1.572,.9]],
[11,[1.578,.92,1.603,.926,1.62,.912,1.625,.893,1.615,.878,1.6,.87,1.585,.876,1.575,.9]],
[12,[1.583,.918,1.605,.922,1.62,.905,1.625,.89,1.61,.876,1.595,.876,1.583,.89]]];
const bUpperBlack=[
[-1,[1.707,.993,1.958,.993,1.99,.98,1.99,.85,1.958,.8,1.893,.703,1.815,.654,1.736,.629,1.671,.622,1.612,.606,1.553,.587,1.514,.59,1.495,.615,1.514,.643,1.586,.657,1.632,.684,1.658,.716,1.69,.776,1.702,.896,1.702,.975]],
[-2,[1.715,.985,1.81,.99,1.95,.985,1.97,.94,1.97,.85,1.93,.75,1.87,.69,1.81,.672,1.75,.7,1.715,.78,1.705,.88]],
[-3,[1.725,.98,1.81,.985,1.94,.975,1.96,.92,1.955,.84,1.92,.76,1.86,.705,1.81,.696,1.76,.72,1.73,.78,1.72,.88]],
[-4,[1.735,.97,1.81,.975,1.925,.965,1.95,.91,1.94,.84,1.905,.77,1.85,.725,1.81,.717,1.77,.74,1.74,.79,1.73,.88]],
[-5,[1.745,.96,1.81,.97,1.91,.955,1.935,.9,1.925,.84,1.89,.78,1.845,.745,1.81,.735,1.775,.755,1.75,.8,1.74,.88]],
[-6,[1.755,.95,1.81,.96,1.895,.94,1.92,.89,1.905,.84,1.875,.79,1.84,.76,1.81,.753,1.78,.77,1.76,.81,1.75,.88]],
[-7,[1.76,.94,1.81,.95,1.88,.93,1.9,.885,1.89,.84,1.865,.8,1.835,.78,1.81,.772,1.785,.785,1.765,.82,1.757,.88]],
[-8,[1.765,.93,1.81,.94,1.86,.92,1.885,.885,1.875,.84,1.855,.81,1.83,.795,1.81,.79,1.79,.8,1.772,.83,1.765,.88]],
[-9,[1.77,.92,1.81,.93,1.85,.915,1.865,.88,1.855,.84,1.84,.82,1.82,.81,1.805,.809,1.79,.815,1.778,.84,1.77,.88]],
[-10,[1.775,.91,1.81,.92,1.84,.905,1.85,.88,1.84,.85,1.825,.83,1.81,.827,1.79,.835,1.778,.86]],
[-11,[1.785,.89,1.808,.91,1.825,.895,1.832,.875,1.825,.855,1.808,.848,1.79,.855,1.783,.875]]];

const panelAGroups=[[aLeftEdgeDark,aLevelColours],[aRightEdgeDark,aLevelColours],[aLeftLobes,aLevelColours],[aRightLobes,aLevelColours],[aBottomLobeLeft,aLevelColours],[aBottomLobeRight,aLevelColours],[aTopLobeLeft,aLevelColours],[aTopLobeRight,aLevelColours],[aTopBar,aLevelColours],[aCentreUpperLobe,aLevelColours],[aTopDarkLeft,aLevelColours],[aTopDarkRight,aLevelColours],[aBottomDarkLeft,aLevelColours],[aBottomDarkRight,aLevelColours],[aCentreDark,aLevelColours],[aTopWhiteLeft,aPeakColours],[aTopWhiteRight,aPeakColours],[aBottomWhiteLeft,aPeakColours],[aBottomWhiteRight,aPeakColours]];
const panelBGroups=[[bSmallLobes,bLevelColours],[bCentreLobe,bLevelColours],[bRightLobe,bLevelColours],[bLowerDarkOuter,bLevelColours],[bLowerSmallDark,bLevelColours],[bUpperSmallDark,bLevelColours],[bLowerBlack,bLevelColours],[bUpperBlack,bLevelColours],[bLowerWhite,bPeakColours],[bUpperWhite,bPeakColours]];

function buildDatasets(groups){
  const loops=groups.flatMap(([list,colours])=>list.map(l=>[l[0],l[1],colours]));
  return loops.map(([level,c,colours],i)=>{
    const data=[];
    for(let k=0;k<c.length;k+=2)data.push({x:c[k],y:c[k+1]});
    data.push({x:c[0],y:c[1]});
    return {data,showLine:true,fill:'shape',tension:.38,backgroundColor:colours[level],borderColor:'#000',borderWidth:3,borderDash:[15,7,1.5,7],pointRadius:0,order:loops.length-i};
  });
}
const frameTicks={id:'frameTicks',afterDatasetsDraw(chart){
  const {ctx,scales:{x,y}}=chart;
  const L=x.getPixelForValue(0),R=x.getPixelForValue(xMax),B=y.getPixelForValue(0),T=y.getPixelForValue(1);
  ctx.save();ctx.strokeStyle='#111';ctx.lineWidth=1.6;ctx.beginPath();
  for(const v of xTickLabels.slice(1)){const p=x.getPixelForValue(v);ctx.moveTo(p,B);ctx.lineTo(p,B-14);ctx.moveTo(p,T);ctx.lineTo(p,T+14);}
  for(const v of xMinorTicks){const p=x.getPixelForValue(v);ctx.moveTo(p,B);ctx.lineTo(p,B-4);ctx.moveTo(p,T);ctx.lineTo(p,T+4);}
  for(const v of zMinorTicks){const p=y.getPixelForValue(v);ctx.moveTo(L,p);ctx.lineTo(L+7,p);ctx.moveTo(R,p);ctx.lineTo(R-7,p);}
  ctx.stroke();ctx.lineWidth=3;ctx.strokeStyle='#111';ctx.strokeRect(L,T,R-L,B-T);ctx.restore();
}};
function makeChart(id,groups,bg,left,right,canvasW){
  const tf={family:'"Liberation Serif",serif',size:82,lineHeight:1};
  new Chart(document.getElementById(id),{
    type:'scatter',
    data:{datasets:buildDatasets(groups)},
    options:{responsive:false,animation:false,events:[],
      layout:{padding:{top:65,right:canvasW-right,left:0,bottom:0}},
      plugins:{legend:{display:false},tooltip:{enabled:false},filler:{drawTime:'beforeDatasetDraw'}},
      scales:{
        x:{type:'linear',min:0,max:xMax,grid:{display:false},border:{display:false},
          afterBuildTicks(s){s.ticks=xTickLabels.map(v=>({value:v}));},
          afterFit(s){s.height=1104-789;},
          ticks:{font:tf,color:'#000',maxRotation:0,autoSkip:false,padding:14,callback:v=>String(v)},
          title:{display:true,text:'x',color:'#000',font:{family:'"Liberation Serif",serif',size:96,style:'italic',lineHeight:1},padding:{top:0,bottom:152}}},
        y:{type:'linear',min:0,max:1,grid:{display:false},border:{display:false},
          afterBuildTicks(s){s.ticks=zTickLabels.map(v=>({value:v}));},
          afterFit(s){s.width=left;},
          ticks:{font:tf,color:'#000',padding:10,callback:v=>String(v)}}
      }},
    plugins:[{id:'bg',beforeDatasetsDraw(c){const a=c.chartArea;c.ctx.save();c.ctx.fillStyle=bg;c.ctx.fillRect(a.left,a.top,a.right-a.left,a.bottom-a.top);c.ctx.restore();}},frameTicks]
  });
}
makeChart('ca',panelAGroups,aLevelColours[0],102,1526,1600);
makeChart('cb',panelBGroups,bLevelColours[0],72,1494,1528);
</script>
</body></html>
